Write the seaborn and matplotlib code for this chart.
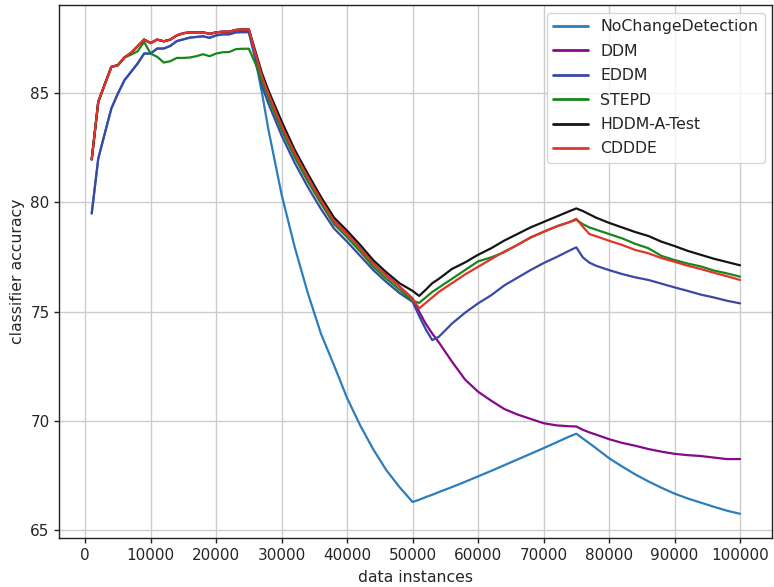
import numpy as np
import pandas as pd
import matplotlib
matplotlib.use("Agg")
import matplotlib.pyplot as plt
import seaborn as sns

x = [1000, 2000, 3000, 4000, 5000, 6000, 7000, 8000, 9000, 10000,
     11000, 12000, 13000, 14000, 15000, 16000, 17000, 18000, 19000, 20000,
     21000, 22000, 23000, 24000, 25000, 26000, 27000, 28000,
     30000, 32000, 34000, 36000, 38000, 40000, 42000, 44000, 46000, 48000, 50000,
     51000, 52000, 53000, 54000,
     56000, 58000, 60000, 62000, 64000, 66000, 68000, 70000, 72000, 74000,
     75000, 76000, 77000, 78000,
     80000, 82000, 84000, 86000, 88000, 90000, 92000, 94000, 96000, 98000, 100000]

early_top = [81.96, 84.59, 85.4, 86.19, 86.27, 86.62, 86.83, 87.13, 87.44, 87.28,
             87.44, 87.36, 87.44, 87.63, 87.73, 87.77, 87.77, 87.77, 87.7, 87.77,
             87.8, 87.8, 87.88, 87.9, 87.9]
early_eddm = [79.49, 82.0, 83.15, 84.29, 84.97, 85.58, 85.96, 86.34, 86.8, 86.8,
              87.03, 87.03, 87.15, 87.37, 87.45, 87.53, 87.56, 87.59, 87.52, 87.63,
              87.68, 87.68, 87.77, 87.78, 87.78]

no_change = early_eddm + [
    86.5, 85.0, 83.3,
    80.35, 77.95, 75.85, 74.0, 72.55, 71.05, 69.8, 68.7, 67.75, 66.98, 66.3,
    66.4, 66.52, 66.63, 66.75,
    66.98, 67.22, 67.47, 67.72, 67.98, 68.24, 68.5, 68.76, 69.03, 69.3,
    69.42, 69.2, 68.98, 68.76,
    68.3, 67.92, 67.56, 67.24, 66.95, 66.68, 66.46, 66.27, 66.08, 65.9, 65.76]

cdddd_tail = [
    86.8, 85.75, 84.95,
    83.5, 82.25, 81.15, 80.1, 79.15, 78.55, 77.9, 77.2, 76.65, 76.15, 75.6]

ddm = early_top + cdddd_tail + [
    75.0, 74.45, 74.0, 73.6,
    72.72, 71.9, 71.34, 70.93, 70.55, 70.3, 70.1, 69.9, 69.8, 69.76,
    69.75, 69.6, 69.48, 69.38,
    69.17, 69.0, 68.87, 68.72, 68.6, 68.5, 68.44, 68.4, 68.33, 68.26, 68.26]

eddm = early_eddm + [
    86.6, 85.3, 84.5,
    83.05, 81.8, 80.7, 79.7, 78.8, 78.2, 77.55, 76.9, 76.35, 75.85, 75.45,
    74.8, 74.2, 73.7, 73.85,
    74.45, 74.95, 75.38, 75.75, 76.2, 76.55, 76.9, 77.22, 77.5, 77.8,
    77.94, 77.48, 77.24, 77.1,
    76.9, 76.72, 76.57, 76.45, 76.28, 76.11, 75.95, 75.78, 75.65, 75.5, 75.38]

stepd = [81.96, 84.59, 85.4, 86.19, 86.27, 86.62, 86.75, 86.9, 87.33, 86.8,
         86.65, 86.39, 86.45, 86.6, 86.6, 86.62, 86.68, 86.77, 86.68, 86.8,
         86.86, 86.87, 87.0, 87.02, 87.02] + [
    86.34, 85.55, 84.75,
    83.3, 82.05, 80.95, 79.95, 79.0, 78.4, 77.75, 77.05, 76.5, 76.0, 75.5,
    75.4, 75.65, 75.9, 76.1,
    76.5, 76.9, 77.3, 77.48, 77.72, 78.05, 78.38, 78.65, 78.9, 79.1,
    79.2, 79.0, 78.85, 78.75,
    78.55, 78.35, 78.1, 77.9, 77.55, 77.36, 77.2, 77.07, 76.88, 76.75, 76.6]

hddm = early_top + [
    86.9, 85.9, 85.1,
    83.7, 82.4, 81.3, 80.25, 79.3, 78.7, 78.05, 77.35, 76.8, 76.3, 75.95,
    75.72, 76.0, 76.3, 76.5,
    76.95, 77.25, 77.6, 77.9, 78.25, 78.55, 78.85, 79.1, 79.35, 79.6,
    79.72, 79.6, 79.45, 79.3,
    79.06, 78.85, 78.64, 78.46, 78.2, 78.0, 77.78, 77.6, 77.42, 77.27, 77.12]

cddde = early_top + cdddd_tail + [
    75.15, 75.4, 75.65, 75.9,
    76.3, 76.7, 77.05, 77.4, 77.75, 78.05, 78.4, 78.65, 78.9, 79.1,
    79.25, 78.88, 78.55, 78.45,
    78.24, 78.05, 77.82, 77.67, 77.45, 77.28, 77.1, 76.95, 76.78, 76.62, 76.45]

names = ["NoChangeDetection", "DDM", "EDDM", "STEPD", "HDDM-A-Test", "CDDDE"]
series = [no_change, ddm, eddm, stepd, hddm, cddde]
colors = ["#2c7dbb", "#850a8a", "#3a48a6", "#17871c", "#141414", "#e3332a"]

frames = [pd.DataFrame({"data instances": x, "classifier accuracy": s, "method": n})
          for n, s in zip(names, series)]
df = pd.concat(frames, ignore_index=True)

sns.set_theme(style="ticks")
plt.rcParams["font.family"] = ["DejaVu Sans"]

fig, ax = plt.subplots(figsize=(7.74, 5.87), dpi=100)
fig.subplots_adjust(left=0.0766, right=0.998, top=0.991, bottom=0.0835)

sns.lineplot(data=df, x="data instances", y="classifier accuracy", hue="method",
             hue_order=names, palette=dict(zip(names, colors)), linewidth=1.6, ax=ax)

ax.grid(True, color="#cccccc", linewidth=1.0)
ax.set_axisbelow(True)
ax.set_xticks(np.arange(0, 100001, 10000))
ax.set_yticks([65, 70, 75, 80, 85])
ax.tick_params(labelsize=11, length=3.5, width=1.0, color="#222222", pad=3.5)
for sp in ax.spines.values():
    sp.set_color("#222222")
    sp.set_linewidth(1.0)
ax.set_xlabel("data instances", fontsize=11.3, labelpad=5)
ax.set_ylabel("classifier accuracy", fontsize=11.3, labelpad=4)
leg = ax.legend(loc="upper right", fontsize=11.3, frameon=True, title=None,
                handlelength=2.2, labelspacing=0.6)
for line in leg.get_lines():
    line.set_linewidth(2.0)

fig.savefig("out.png", dpi=100)
